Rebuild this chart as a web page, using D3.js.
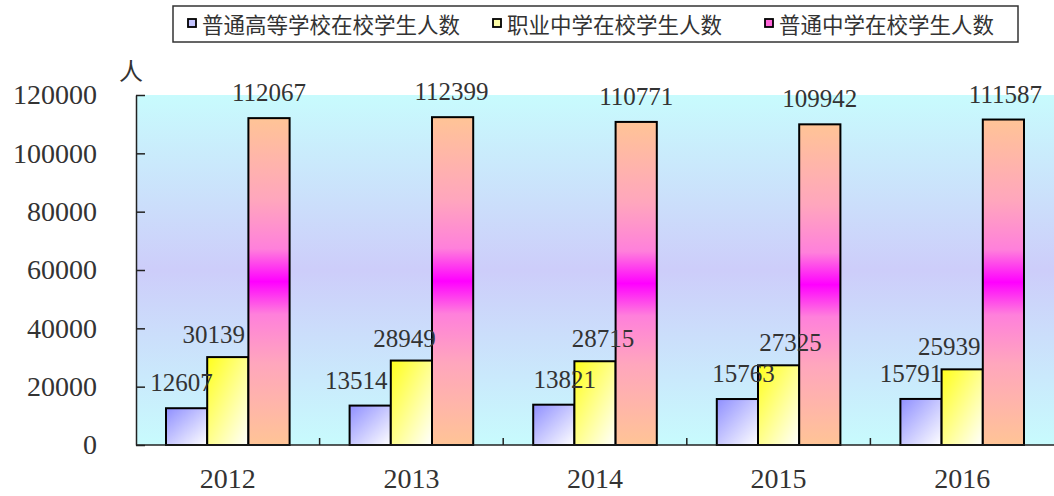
<!DOCTYPE html>
<html>
<head>
<meta charset="utf-8">
<script src="https://cdn.jsdelivr.net/npm/d3@7"></script>
<style>
  html, body { margin: 0; padding: 0; background: #fff; }
  svg { display: block; }
</style>
</head>
<body>
<div id="chart"></div>
<script>
// ---------- data ----------
const years = ["2012", "2013", "2014", "2015", "2016"];
const seriesNames = ["普通高等学校在校学生人数", "职业中学在校学生人数", "普通中学在校学生人数"];
const higherEdu = [12607, 13514, 13821, 15763, 15791];
const vocational = [30139, 28949, 28715, 27325, 25939];
const middleSchool = [112067, 112399, 110771, 109942, 111587];
const yTicks = [0, 20000, 40000, 60000, 80000, 100000, 120000];
const unitLabel = "人";

// label nudges (px) to mimic original manual placement
const labelNudge = [
  [-5, -14, 0],
  [-14, -7, -1],
  [11, 8, 0],
  [6, 12, 0],
  [-10, -13, 2]
];

const seriesValues = [higherEdu, vocational, middleSchool];

// ---------- layout ----------
const W = 1054, H = 496;
const plot = { left: 136, right: 1054, top: 95, bottom: 445 };

const svg = d3.select("#chart").append("svg")
  .attr("width", W).attr("height", H);

const defs = svg.append("defs");

// background gradient
const bg = defs.append("linearGradient").attr("id", "bgGrad")
  .attr("x1", 0).attr("y1", 0).attr("x2", 0).attr("y2", 1);
bg.append("stop").attr("offset", "0%").attr("stop-color", "#c8fbfd");
bg.append("stop").attr("offset", "50%").attr("stop-color", "#cdcdfa");
bg.append("stop").attr("offset", "100%").attr("stop-color", "#c8fbfd");

// bar gradients
const g0 = defs.append("linearGradient").attr("id", "grad0")
  .attr("x1", 0).attr("y1", 0).attr("x2", 1).attr("y2", 1);
g0.append("stop").attr("offset", "0%").attr("stop-color", "#8f8fff");
g0.append("stop").attr("offset", "100%").attr("stop-color", "#ffffff");

const g1 = defs.append("linearGradient").attr("id", "grad1")
  .attr("x1", 0).attr("y1", 0).attr("x2", 1).attr("y2", 1);
g1.append("stop").attr("offset", "0%").attr("stop-color", "#ffff1a");
g1.append("stop").attr("offset", "100%").attr("stop-color", "#ffffff");

const g2 = defs.append("linearGradient").attr("id", "grad2")
  .attr("x1", 0).attr("y1", 0).attr("x2", 0).attr("y2", 1);
[["0%", "#ffc496"], ["25%", "#ffa6bd"], ["40%", "#ff80db"], ["50%", "#ff00ff"],
 ["60%", "#ff80db"], ["75%", "#ffa6bd"], ["100%", "#ffc496"]].forEach(([o, c]) =>
  g2.append("stop").attr("offset", o).attr("stop-color", c));

const legendFill = ["#c4c4ff", "#ffffa8", "#ff66d9"];

// ---------- scales ----------
const x0 = d3.scaleBand().domain(years).range([plot.left, plot.right]).padding(0);
const step = x0.bandwidth();
const x1 = d3.scaleBand().domain(d3.range(3)).range([30, step - 30]).padding(0);
const y = d3.scaleLinear().domain([0, 120000]).range([plot.bottom, plot.top]);

// background
svg.append("rect")
  .attr("x", plot.left).attr("y", plot.top)
  .attr("width", plot.right - plot.left).attr("height", plot.bottom - plot.top)
  .attr("fill", "url(#bgGrad)");

// bars
const groups = svg.append("g").selectAll("g")
  .data(years).join("g")
  .attr("transform", d => `translate(${x0(d)},0)`);

groups.selectAll("rect")
  .data((d, i) => seriesValues.map((s, k) => ({ k, v: s[i] })))
  .join("rect")
  .attr("x", d => x1(d.k))
  .attr("y", d => y(d.v))
  .attr("width", x1.bandwidth())
  .attr("height", d => y(0) - y(d.v))
  .attr("fill", d => `url(#grad${d.k})`)
  .attr("stroke", "#000")
  .attr("stroke-width", 2);

// y axis
const yAxis = d3.axisLeft(y).tickValues(yTicks).tickSizeInner(-9).tickSizeOuter(0)
  .tickFormat(d3.format("d")).tickPadding(48);
const yAx = svg.append("g").attr("transform", `translate(${plot.left},0)`).call(yAxis);
yAx.select(".domain").attr("stroke", "#222").attr("stroke-width", 1.5);
yAx.selectAll(".tick line").attr("stroke", "#222").attr("stroke-width", 1.5);
yAx.selectAll(".tick text")
  .attr("x", -39)
  .attr("font-family", "'Liberation Serif', 'Times New Roman', serif")
  .attr("font-size", 28).attr("fill", "#333");

// x axis
const xAxisLine = svg.append("g").attr("transform", `translate(0,${plot.bottom})`);
xAxisLine.append("line")
  .attr("x1", plot.left).attr("x2", plot.right)
  .attr("stroke", "#222").attr("stroke-width", 1.5);
xAxisLine.selectAll("line.tk")
  .data(years.slice(1)).join("line").attr("class", "tk")
  .attr("x1", d => x0(d)).attr("x2", d => x0(d))
  .attr("y1", 0).attr("y2", -7)
  .attr("stroke", "#222").attr("stroke-width", 1.5);
xAxisLine.selectAll("text")
  .data(years).join("text")
  .attr("x", d => x0(d) + step / 2)
  .attr("y", 43)
  .attr("text-anchor", "middle")
  .attr("font-family", "'Liberation Serif', 'Times New Roman', serif")
  .attr("font-size", 28).attr("fill", "#333")
  .text(d => d);

// unit label
svg.append("text")
  .attr("x", 131).attr("y", 80)
  .attr("text-anchor", "middle")
  .attr("font-family", "'Noto Sans CJK SC', sans-serif")
  .attr("font-size", 24).attr("fill", "#333")
  .text(unitLabel);

// value labels
const labelData = [];
years.forEach((yr, i) => seriesValues.forEach((s, k) => labelData.push({ yr, i, k, v: s[i] })));
svg.append("g").selectAll("text")
  .data(labelData).join("text")
  .attr("x", d => x0(d.yr) + x1(d.k) + x1.bandwidth() / 2 + labelNudge[d.i][d.k])
  .attr("y", d => y(d.v) - (d.k === 1 ? 14 : 17))
  .attr("text-anchor", "middle")
  .attr("font-family", "'Liberation Serif', 'Times New Roman', serif")
  .attr("font-size", 25).attr("fill", "#333")
  .text(d => d.v);

// legend
const legend = svg.append("g");
legend.append("rect")
  .attr("x", 173).attr("y", 6).attr("width", 845).attr("height", 36)
  .attr("fill", "#fff").attr("stroke", "#333").attr("stroke-width", 1.5);
const legendX = [188, 493, 765];
const li = legend.selectAll("g.item").data(seriesNames).join("g").attr("class", "item")
  .attr("transform", (d, i) => `translate(${legendX[i]},0)`);
li.append("rect")
  .attr("x", 0).attr("y", 19).attr("width", 8).attr("height", 8)
  .attr("fill", (d, i) => legendFill[i])
  .attr("stroke", "#000").attr("stroke-width", 1.8);
li.append("text")
  .attr("x", 14).attr("y", 33)
  .attr("font-family", "'Noto Sans CJK SC', sans-serif")
  .attr("font-size", 21.5).attr("fill", "#333")
  .text(d => d);
</script>
</body>
</html>
